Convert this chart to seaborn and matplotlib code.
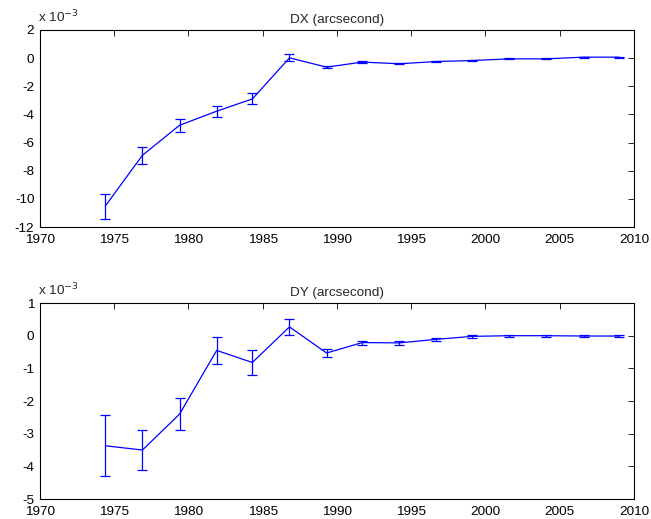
import numpy as np
import pandas as pd
import matplotlib
matplotlib.use("Agg")
import matplotlib.pyplot as plt
import seaborn as sns

years = [1974.4, 1976.9, 1979.4, 1981.9, 1984.3, 1986.8, 1989.3, 1991.7,
         1994.2, 1996.7, 1999.1, 2001.6, 2004.1, 2006.6, 2009.0]
dx = [-10.51, -6.90, -4.77, -3.77, -2.90, 0.02, -0.64, -0.28,
      -0.40, -0.24, -0.17, -0.05, -0.05, 0.07, 0.07]
dx_err = [0.89, 0.60, 0.48, 0.40, 0.39, 0.25, 0.08, 0.06,
          0.05, 0.04, 0.04, 0.03, 0.03, 0.03, 0.03]
dy = [-3.37, -3.50, -2.40, -0.45, -0.82, 0.27, -0.53, -0.21,
      -0.22, -0.11, -0.02, 0.0, 0.0, -0.01, -0.01]
dy_err = [0.93, 0.62, 0.50, 0.42, 0.39, 0.24, 0.13, 0.06,
          0.05, 0.04, 0.04, 0.03, 0.03, 0.03, 0.03]
titles = ["DX (arcsecond)", "DY (arcsecond)"]
xticks = [1970, 1975, 1980, 1985, 1990, 1995, 2000, 2005, 2010]
yticks_dx = [2, 0, -2, -4, -6, -8, -10, -12]
yticks_dy = [1, 0, -1, -2, -3, -4, -5]

sns.set_style("white")
plt.rcParams['font.family'] = ['Liberation Sans', 'DejaVu Sans']
plt.rcParams['axes.unicode_minus'] = False
plt.rcParams['xtick.direction'] = 'in'
plt.rcParams['ytick.direction'] = 'in'

FS = 9.7
fig = plt.figure(figsize=(6.51, 5.19), dpi=100)
ax1 = fig.add_axes([0.0614, 0.5626, 0.9125, 0.3796])
ax2 = fig.add_axes([0.0614, 0.0385, 0.9125, 0.3776])

specs = [(ax1, dx, dx_err, yticks_dx, titles[0]),
         (ax2, dy, dy_err, yticks_dy, titles[1])]
for ax, vals, errs, yt, title in specs:
    df = pd.DataFrame({"year": years, "val": vals})
    sns.lineplot(data=df, x="year", y="val", ax=ax, color=(0, 0, 1),
                 linewidth=0.9, errorbar=None)
    ax.errorbar(years, vals, yerr=errs, fmt='none', ecolor=(0, 0, 1),
                elinewidth=0.9, capsize=3.6, capthick=0.9)
    ax.set_xlim(1970, 2010)
    ax.set_ylim(min(yt), max(yt))
    ax.set_xticks(xticks)
    ax.set_yticks(yt)
    ax.set_xticklabels([str(t) for t in xticks])
    ax.set_yticklabels([str(t) for t in yt])
    ax.set_xlabel("")
    ax.set_ylabel("")
    ax.tick_params(axis='both', which='both', direction='in', top=True,
                   right=True, length=4, width=0.6, labelsize=FS,
                   colors='black')
    ax.tick_params(axis='x', pad=5)
    ax.tick_params(axis='y', pad=4)
    for s in ax.spines.values():
        s.set_linewidth(0.8)
        s.set_color('black')
        s.set_visible(True)
    ax.set_title(title, fontsize=FS, pad=5)
    ax.text(-0.004, 1.025, r'x 10$^{-3}$', transform=ax.transAxes,
            fontsize=FS, ha='left', va='bottom')

fig.savefig("out.png", dpi=100, facecolor='white')
